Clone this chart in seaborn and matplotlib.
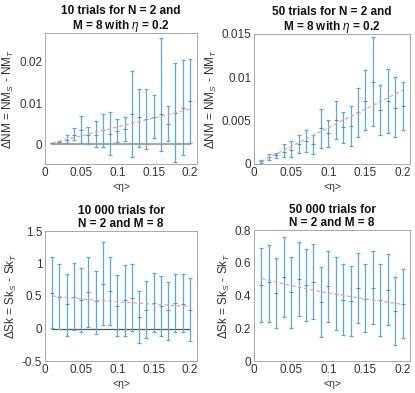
import numpy as np
import matplotlib
matplotlib.use("Agg")
import matplotlib.pyplot as plt
import seaborn as sns

eta = [0.01, 0.02, 0.03, 0.04, 0.05, 0.06, 0.07, 0.08, 0.09, 0.10,
       0.11, 0.12, 0.13, 0.14, 0.15, 0.16, 0.17, 0.18, 0.19, 0.20]

# panel 1: 10 trials, delta NM
nm10_mean = [0.0003, 0.0005, 0.0011, 0.0023, 0.0035, 0.0023, 0.0023, 0.0034, 0.0026, 0.0031,
             0.0038, 0.0074, 0.0065, 0.0062, 0.0067, 0.0074, 0.0050, 0.0076, 0.0089, 0.0106]
nm10_low = [0.0002, 0.0003, 0.0002, 0.0010, 0.0003, 0.0000, -0.0007, -0.0007, -0.0025, 0.0006,
            0.0007, -0.0030, -0.0007, -0.0012, 0.0014, -0.0017, 0.0007, -0.0042, -0.0025, 0.0002]
nm10_up = [0.0004, 0.0009, 0.0023, 0.0039, 0.0069, 0.0043, 0.0057, 0.0074, 0.0079, 0.0062,
           0.0067, 0.0178, 0.0135, 0.0135, 0.0119, 0.0259, 0.0093, 0.0198, 0.0204, 0.0207]
nm10_fit_x = [0.01, 0.20]
nm10_fit_y = [0.0003, 0.0085]

# panel 2: 50 trials, delta NM
nm50_mean = [0.0003, 0.0008, 0.0010, 0.0014, 0.0016, 0.0023, 0.0027, 0.0023, 0.0041, 0.0036,
             0.0051, 0.0043, 0.0044, 0.0060, 0.0073, 0.0095, 0.0062, 0.0073, 0.0065, 0.0067]
nm50_low = [0.0001, 0.0005, 0.00065, 0.0008, 0.0008, 0.0013, 0.0014, 0.0012, 0.0019, 0.0020,
            0.0029, 0.0024, 0.0021, 0.0031, 0.0039, 0.0044, 0.0033, 0.0036, 0.0031, 0.0039]
nm50_up = [0.0005, 0.0012, 0.0013, 0.0023, 0.0026, 0.0033, 0.0039, 0.0034, 0.0064, 0.0051,
           0.0073, 0.0060, 0.0067, 0.0088, 0.0108, 0.0146, 0.0091, 0.0110, 0.0100, 0.0095]
nm50_fit_x = [0.01, 0.20]
nm50_fit_y = [0.0003, 0.0085]

# panel 3: 10 000 trials, delta Sk
sk10k_mean = [0.55, 0.49, 0.37, 0.48, 0.44, 0.56, 0.42, 0.68, 0.58, 0.35,
              0.44, 0.47, 0.17, 0.29, 0.39, 0.35, 0.28, 0.39, 0.38, 0.29]
sk10k_low = [0.01, -0.01, -0.11, -0.03, -0.05, 0.03, -0.08, 0.05, 0.06, -0.12,
             -0.11, -0.04, -0.23, -0.14, -0.06, -0.12, -0.18, -0.06, -0.06, -0.19]
sk10k_up = [1.10, 1.00, 0.84, 1.01, 0.93, 1.10, 0.88, 1.33, 1.10, 0.82,
            0.98, 0.99, 0.57, 0.73, 0.85, 0.81, 0.71, 0.84, 0.84, 0.77]
sk10k_fit_x = [0.01, 0.05, 0.10, 0.15, 0.20]
sk10k_fit_y = [0.50, 0.455, 0.41, 0.375, 0.34]

# panel 4: 50 000 trials, delta Sk
sk50k_mean = [0.465, 0.48, 0.415, 0.51, 0.42, 0.50, 0.465, 0.485, 0.36, 0.455,
              0.41, 0.375, 0.365, 0.445, 0.38, 0.445, 0.37, 0.435, 0.305, 0.35]
sk50k_low = [0.24, 0.24, 0.20, 0.27, 0.20, 0.275, 0.245, 0.255, 0.145, 0.24,
             0.19, 0.16, 0.15, 0.23, 0.175, 0.225, 0.155, 0.22, 0.10, 0.14]
sk50k_up = [0.69, 0.71, 0.63, 0.755, 0.635, 0.725, 0.685, 0.715, 0.575, 0.67,
            0.635, 0.59, 0.58, 0.66, 0.59, 0.67, 0.59, 0.655, 0.51, 0.56]
sk50k_fit_x = [0.01, 0.05, 0.10, 0.15, 0.20]
sk50k_fit_y = [0.505, 0.46, 0.415, 0.38, 0.345]

sns.set_style("white")
plt.rcParams['font.family'] = ['Liberation Sans', 'DejaVu Sans']
plt.rcParams['mathtext.fontset'] = 'custom'
plt.rcParams['mathtext.rm'] = 'Liberation Sans'
plt.rcParams['mathtext.it'] = 'Liberation Sans:italic'
plt.rcParams['mathtext.bf'] = 'Liberation Sans:bold'

BLUE = "#5aa8dd"
ORANGE = "#f2a582"
TXT = "#333333"

fig = plt.figure(figsize=(4.15, 3.93), dpi=100)
W, H = 415.0, 393.0


def make_ax(l, r, t, b):
    return fig.add_axes([l / W, 1 - b / H, (r - l) / W, (b - t) / H])


panels = [
    dict(box=(45, 197, 33, 164), mean=nm10_mean, low=nm10_low, up=nm10_up,
         fx=nm10_fit_x, fy=nm10_fit_y, ylim=(-0.0048, 0.027),
         yticks=[0, 0.01, 0.02], ylabels=["0", "0.01", "0.02"],
         title="10 trials for N = 2 and\nM = 8 with $\\eta$ = 0.2",
         ylabel="ΔNM = NM$_S$ - NM$_T$", zero=("#a8a8a8", 1.6)),
    dict(box=(254, 410, 34, 164), mean=nm50_mean, low=nm50_low, up=nm50_up,
         fx=nm50_fit_x, fy=nm50_fit_y, ylim=(0, 0.015),
         yticks=[0, 0.005, 0.01, 0.015], ylabels=["0", "0.005", "0.01", "0.015"],
         title="50 trials for N = 2 and\nM = 8 with $\\eta$ = 0.2",
         ylabel="ΔNM = NM$_S$ - NM$_T$", zero=None),
    dict(box=(45, 197, 231, 361), mean=sk10k_mean, low=sk10k_low, up=sk10k_up,
         fx=sk10k_fit_x, fy=sk10k_fit_y, ylim=(-0.5, 1.5),
         yticks=[-0.5, 0, 0.5, 1, 1.5], ylabels=["-0.5", "0", "0.5", "1", "1.5"],
         title="10 000 trials for\nN = 2 and M = 8",
         ylabel="ΔSk = Sk$_S$ - Sk$_T$", zero=("#555555", 0.9)),
    dict(box=(254, 410, 230, 361), mean=sk50k_mean, low=sk50k_low, up=sk50k_up,
         fx=sk50k_fit_x, fy=sk50k_fit_y, ylim=(0, 0.8),
         yticks=[0, 0.2, 0.4, 0.6, 0.8], ylabels=["0", "0.2", "0.4", "0.6", "0.8"],
         title="50 000 trials for\nN = 2 and M = 8",
         ylabel="ΔSk = Sk$_S$ - Sk$_T$", zero=None),
]

for p in panels:
    ax = make_ax(*p["box"])
    m = np.array(p["mean"])
    lo = m - np.array(p["low"])
    hi = np.array(p["up"]) - m
    if p["zero"] is not None:
        ax.plot([eta[0], eta[-1]], [0, 0], color=p["zero"][0], lw=p["zero"][1], zorder=1)
    ax.errorbar(eta, m, yerr=[lo, hi], fmt="none", ecolor=BLUE, elinewidth=0.9,
                capsize=1.6, capthick=0.9, zorder=2)
    sns.scatterplot(x=eta, y=m, marker="_", s=10, color="#4a96d2", linewidth=0.8, ax=ax, zorder=3)
    sns.lineplot(x=p["fx"], y=p["fy"], color=ORANGE, lw=0.9, linestyle=(0, (3, 2)), ax=ax, zorder=4)
    ax.set_xlim(0, 0.21)
    ax.set_ylim(*p["ylim"])
    ax.set_xticks([0, 0.05, 0.1, 0.15, 0.2])
    ax.set_xticklabels(["0", "0.05", "0.1", "0.15", "0.2"])
    ax.set_yticks(p["yticks"])
    ax.set_yticklabels(p["ylabels"])
    ax.tick_params(direction="in", length=2.5, width=0.5, labelsize=8.5, colors=TXT, pad=2)
    for s in ax.spines.values():
        s.set_color("#9a9a9a")
        s.set_linewidth(0.6)
    ax.set_title(p["title"], fontsize=8.5, fontweight="bold", color="#111111", pad=3, linespacing=1.1)
    ax.set_ylabel(p["ylabel"], fontsize=8.5, color=TXT, labelpad=2)
    ax.set_xlabel("<η>", fontsize=7.5, color=TXT, labelpad=2)

fig.savefig("out.png", dpi=100)
